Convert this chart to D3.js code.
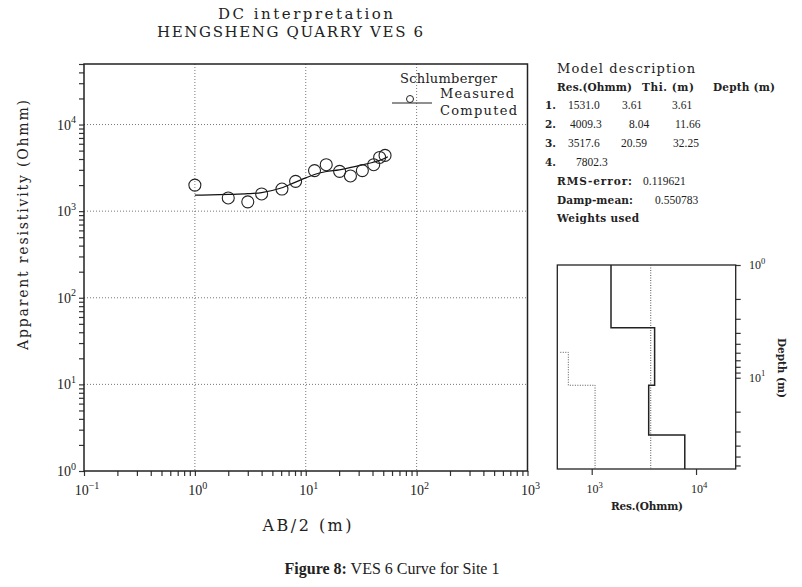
<!DOCTYPE html>
<html>
<head>
<meta charset="utf-8">
<script src="https://cdn.jsdelivr.net/npm/d3@7"></script>
<style>
  body { margin: 0; background: #fff; }
  text { fill: #222; }
  .mono { font-family: "DejaVu Serif", "Liberation Serif", serif; }
  .serif { font-family: "Liberation Serif", "DejaVu Serif", serif; }
  .grid { stroke: #777; stroke-width: 1; stroke-dasharray: 1,2; }
  .axis path { display: none; }
  .axis line { stroke: #333; stroke-width: 1.2; }
</style>
</head>
<body>
<div class="chart"></div>
<script>
// DATA ------------------------------------

// measured apparent resistivity (Schlumberger)
const measuredAB = [1, 2, 3, 4, 6.1, 8.1, 12, 15.3, 20.2, 25.3, 32.4, 41, 46.4, 51.9];
const measuredRho = [2000, 1420, 1280, 1580, 1800, 2210, 2940, 3440, 2880, 2550, 2940, 3440, 4170, 4400];

// computed curve
const computedAB = [1, 2, 3, 4, 6, 8, 10, 12, 15, 20, 30, 40, 50, 55];
const computedRho = [1530, 1560, 1590, 1640, 1850, 2150, 2420, 2650, 2850, 3000, 3350, 3650, 4000, 4250];

// layered model
const layerRes = [1531.0, 4009.3, 3517.6, 7802.3];
const layerThk = ["3.61", "8.04", "20.59"];
const layerDepth = [3.61, 11.66, 32.25];
const layerResLabel = ["1531.0", "4009.3", "3517.6", "7802.3"];
const depthLabel = ["3.61", "11.66", "32.25"];
const rmsError = "0.119621";
const dampMean = "0.550783";

// dotted lines in the model panel
const meanRes = 3680;
const boundRes = [500, 597, 597, 1077, 1077];
const boundDepth = [5.95, 5.95, 11.66, 11.66, 64.5];

// tick decades
const xDecades = [0.1, 1, 10, 100, 1000];
const xExp = ["-1", "0", "1", "2", "3"];
const yDecades = [1, 10, 100, 1000, 10000];
const yExp = ["0", "1", "2", "3", "4"];

// CHART INIT ------------------------------

const svg = d3.select(".chart").append("svg")
    .attr("width", 802)
    .attr("height", 587);

svg.append("rect").attr("width", 802).attr("height", 587).attr("fill", "#fff");

const plot = {left: 84, right: 527.5, top: 64, bottom: 471};

const xScale = d3.scaleLog().domain([0.1, 1000]).range([plot.left, plot.right]);
const yScale = d3.scaleLog().domain([1, 5e4]).range([plot.bottom, plot.top]);

function minorTicks(lo, hi) {
    let t = [];
    for (let d = lo; d < hi * 10; d *= 10) {
        for (let m = 1; m < 10; m++) {
            let v = Math.round(d * m * 1000) / 1000;
            if (v >= lo && v <= hi) t.push(v);
        }
    }
    return t;
}

// titles
svg.append("text").attr("class", "mono")
    .attr("x", 218).attr("y", 19)
    .attr("font-size", 15)
    .attr("textLength", 175)
    .text("DC interpretation");
svg.append("text").attr("class", "mono")
    .attr("x", 157).attr("y", 37)
    .attr("font-size", 15)
    .attr("textLength", 266)
    .text("HENGSHENG QUARRY VES 6");

// grid
svg.selectAll(".vgrid")
    .data([1, 10, 100])
    .enter().append("line")
    .attr("class", "grid")
    .attr("x1", d => xScale(d)).attr("x2", d => xScale(d))
    .attr("y1", plot.top).attr("y2", plot.bottom);
svg.selectAll(".hgrid")
    .data([10, 100, 1000, 10000])
    .enter().append("line")
    .attr("class", "grid")
    .attr("y1", d => yScale(d)).attr("y2", d => yScale(d))
    .attr("x1", plot.left).attr("x2", plot.right);

// axes
const xAxis = d3.axisBottom(xScale).tickValues(minorTicks(0.1, 1000)).tickSize(5).tickFormat("");
const yAxis = d3.axisLeft(yScale).tickValues(minorTicks(1, 50000)).tickSize(5).tickFormat("");

svg.append("g").attr("class", "axis x-axis")
    .attr("transform", `translate(0, ${plot.bottom})`)
    .call(xAxis);
svg.append("g").attr("class", "axis y-axis")
    .attr("transform", `translate(${plot.left}, 0)`)
    .call(yAxis);

svg.append("rect")
    .attr("x", plot.left).attr("y", plot.top)
    .attr("width", plot.right - plot.left)
    .attr("height", plot.bottom - plot.top)
    .attr("fill", "none").attr("stroke", "#222").attr("stroke-width", 1.5);

function powLabel(g, x, y, exp, anchor, size) {
    size = size || 14;
    let t = g.append("text").attr("class", "serif")
        .attr("x", x).attr("y", y)
        .attr("font-size", size)
        .attr("text-anchor", anchor);
    t.append("tspan").text("10");
    t.append("tspan").attr("dy", -size * 0.45).attr("font-size", size * 0.72)
        .text(exp === "-1" ? "\u22121" : exp);
    return t;
}

xDecades.forEach((d, i) => powLabel(svg, xScale(d) + 3, 495, xExp[i], "middle"));
yDecades.forEach((d, i) => powLabel(svg, 76, yScale(d) + 5, yExp[i], "end"));

svg.append("text").attr("class", "mono")
    .attr("x", 307).attr("y", 531)
    .attr("text-anchor", "middle")
    .attr("font-size", 16)
    .attr("textLength", 89)
    .text("AB/2 (m)");

svg.append("text").attr("class", "mono")
    .attr("transform", "translate(28, 225) rotate(-90)")
    .attr("text-anchor", "middle")
    .attr("font-size", 14)
    .attr("textLength", 250)
    .text("Apparent resistivity (Ohmm)");

// computed curve
const line = d3.line()
    .x(d => xScale(d[0]))
    .y(d => yScale(d[1]))
    .curve(d3.curveMonotoneX);

svg.append("path")
    .datum(computedAB.map((a, i) => [a, computedRho[i]]))
    .attr("d", line)
    .attr("fill", "none")
    .attr("stroke", "#111")
    .attr("stroke-width", 1.2);

// measured points
svg.selectAll(".pt")
    .data(measuredAB.map((a, i) => [a, measuredRho[i]]))
    .enter().append("circle")
    .attr("cx", d => xScale(d[0]))
    .attr("cy", d => yScale(d[1]))
    .attr("r", 6)
    .attr("fill", "none")
    .attr("stroke", "#222")
    .attr("stroke-width", 1.1);

// legend
svg.append("text").attr("class", "mono")
    .attr("x", 400).attr("y", 83).attr("font-size", 13).attr("textLength", 97)
    .text("Schlumberger");
svg.append("circle").attr("cx", 410).attr("cy", 99).attr("r", 3.5)
    .attr("fill", "none").attr("stroke", "#222");
svg.append("text").attr("class", "mono")
    .attr("x", 440).attr("y", 98).attr("font-size", 13).attr("textLength", 74)
    .text("Measured");
svg.append("line").attr("x1", 392).attr("x2", 432).attr("y1", 103).attr("y2", 103)
    .attr("stroke", "#222").attr("stroke-width", 1.2);
svg.append("text").attr("class", "mono")
    .attr("x", 440).attr("y", 115).attr("font-size", 13).attr("textLength", 77)
    .text("Computed");

// MODEL DESCRIPTION -----------------------

svg.append("text").attr("class", "mono")
    .attr("x", 557).attr("y", 73).attr("font-size", 13).attr("textLength", 138)
    .text("Model description");

const hdr = [["Res.(Ohmm)", 557, 75], ["Thi. (m)", 642, 52], ["Depth (m)", 713, 62]];
hdr.forEach(h => {
    svg.append("text").attr("class", "mono")
        .attr("x", h[1]).attr("y", 91)
        .attr("font-size", 10.5).attr("font-weight", "bold")
        .attr("textLength", h[2])
        .text(h[0]);
});

const rowY = [109, 128, 147, 166];
const resX = [568, 570, 568, 576];
const thkX = [622, 629, 621];
const depX = [672, 675, 673];
layerRes.forEach((r, i) => {
    svg.append("text").attr("class", "mono")
        .attr("x", 545).attr("y", rowY[i])
        .attr("font-size", 10.5).attr("font-weight", "bold")
        .text((i + 1) + ".");
    svg.append("text").attr("class", "serif")
        .attr("x", resX[i]).attr("y", rowY[i]).attr("font-size", 11.5)
        .text(layerResLabel[i]);
    if (i < layerThk.length) {
        svg.append("text").attr("class", "serif")
            .attr("x", thkX[i]).attr("y", rowY[i]).attr("font-size", 11.5)
            .text(layerThk[i]);
        svg.append("text").attr("class", "serif")
            .attr("x", depX[i]).attr("y", rowY[i]).attr("font-size", 11.5)
            .text(depthLabel[i]);
    }
});

svg.append("text").attr("class", "mono").attr("x", 557).attr("y", 185)
    .attr("font-size", 10.5).attr("font-weight", "bold").attr("textLength", 75).text("RMS-error:");
svg.append("text").attr("class", "serif").attr("x", 643).attr("y", 185)
    .attr("font-size", 11.5).text(rmsError);
svg.append("text").attr("class", "mono").attr("x", 557).attr("y", 204)
    .attr("font-size", 10.5).attr("font-weight", "bold").attr("textLength", 76).text("Damp-mean:");
svg.append("text").attr("class", "serif").attr("x", 655).attr("y", 204)
    .attr("font-size", 11.5).text(dampMean);
svg.append("text").attr("class", "mono").attr("x", 557).attr("y", 222)
    .attr("font-size", 10.5).attr("font-weight", "bold").attr("textLength", 82).text("Weights used");

// MODEL PANEL -----------------------------

const box = {left: 557.3, right: 735.7, top: 265, bottom: 469};
const rScale = d3.scaleLog().domain([468, 24000]).range([box.left, box.right]);
const dScale = d3.scaleLog().domain([1, 64.5]).range([box.top, box.bottom]);

const rAxis = d3.axisBottom(rScale).tickValues([1000, 10000]).tickSize(6).tickFormat("");
const dAxis = d3.axisRight(dScale).tickValues(minorTicks(1, 64.5).filter(v => v <= 60)).tickSize(5).tickFormat("");

svg.append("g").attr("class", "axis")
    .attr("transform", `translate(0, ${box.bottom})`).call(rAxis);
svg.append("g").attr("class", "axis")
    .attr("transform", `translate(${box.right}, 0)`).call(dAxis);

svg.append("rect")
    .attr("x", box.left).attr("y", box.top)
    .attr("width", box.right - box.left).attr("height", box.bottom - box.top)
    .attr("fill", "none").attr("stroke", "#222").attr("stroke-width", 1.3);

[1000, 10000].forEach((d, i) => powLabel(svg, rScale(d) + 3, 493, ["3", "4"][i], "middle", 12));
[1, 10].forEach((d, i) => powLabel(svg, 749, dScale(d) + 4, ["0", "1"][i], "start", 12));

svg.append("text").attr("class", "mono")
    .attr("x", 647).attr("y", 510).attr("text-anchor", "middle")
    .attr("font-size", 10.5).attr("font-weight", "bold")
    .attr("textLength", 72)
    .text("Res.(Ohmm)");
svg.append("text").attr("class", "mono")
    .attr("transform", "translate(778, 368) rotate(90)")
    .attr("text-anchor", "middle")
    .attr("font-size", 10.5).attr("font-weight", "bold")
    .attr("textLength", 60)
    .text("Depth (m)");

const mline = d3.line().x(d => rScale(d[0])).y(d => dScale(d[1]));

// step model from layers
let steps = [];
let layerTop = 1;
layerRes.forEach((r, i) => {
    let bot = i < layerDepth.length ? layerDepth[i] : 64.5;
    steps.push([r, layerTop], [r, bot]);
    layerTop = bot;
});

svg.append("path").datum([[meanRes, 1], [meanRes, 64.5]])
    .attr("d", mline).attr("fill", "none")
    .attr("stroke", "#555").attr("stroke-width", 1).attr("stroke-dasharray", "1,1.5");
svg.append("path").datum(boundRes.map((r, i) => [r, boundDepth[i]]))
    .attr("d", mline).attr("fill", "none")
    .attr("stroke", "#555").attr("stroke-width", 1).attr("stroke-dasharray", "1,1.5");
svg.append("path").datum(steps)
    .attr("d", mline).attr("fill", "none")
    .attr("stroke", "#222").attr("stroke-width", 1.5);

// caption
const cap = svg.append("text").attr("class", "serif")
    .attr("x", 392).attr("y", 574).attr("text-anchor", "middle")
    .attr("font-size", 16);
cap.append("tspan").attr("font-weight", "bold").text("Figure 8:");
cap.append("tspan").text(" VES 6 Curve for Site 1");
</script>
</body>
</html>
